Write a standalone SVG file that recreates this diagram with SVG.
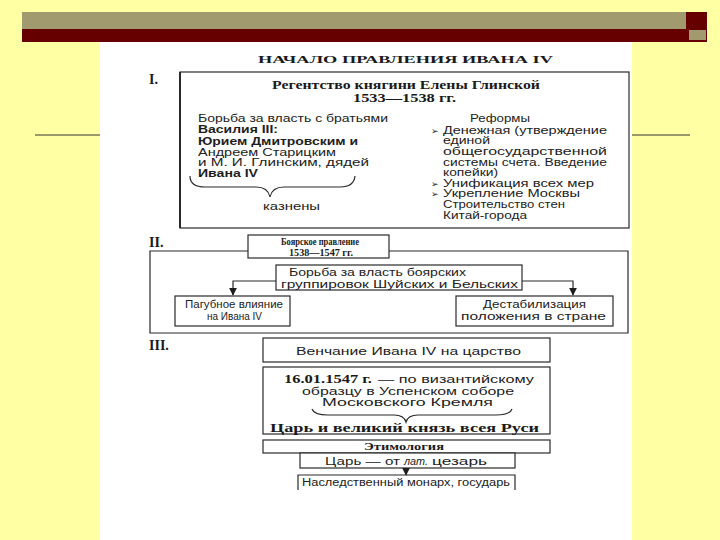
<svg xmlns="http://www.w3.org/2000/svg" width="720" height="540" viewBox="0 0 720 540">
<defs>
<style>
.bx{fill:#fff;stroke:#2a2a2a;stroke-width:1.2}
.ln{fill:none;stroke:#2a2a2a;stroke-width:1.2}
.t{font-family:"Liberation Sans",Arial,sans-serif;font-size:10px;fill:#222}
.tb{font-family:"Liberation Sans",Arial,sans-serif;font-size:10px;font-weight:bold;fill:#1e1e1e}
.s{font-family:"Liberation Serif","Times New Roman",serif;font-weight:bold;fill:#1a1a1a}
.bul{font-family:"DejaVu Sans",sans-serif;font-size:9px;fill:#1e1e1e}
</style>
<marker id="ar" viewBox="0 0 10 10" refX="9" refY="5" markerWidth="8" markerHeight="8" orient="auto" markerUnits="userSpaceOnUse">
<path d="M0,0 L10,5 L0,10 z" fill="#1e1e1e"/>
</marker>
</defs>

<rect x="0" y="0" width="720" height="540" fill="#FFFFA3"/>
<g id="topbar">
<rect x="22" y="12" width="664" height="17" fill="#A09A6E"/>
<rect x="22" y="29" width="666" height="13" fill="#660000"/>
<rect x="686" y="12" width="21" height="30" fill="#660000"/>
<rect x="689" y="30" width="17" height="10" fill="#A09A6E"/>
</g>
<rect x="100" y="42" width="532" height="498" fill="#ffffff"/>
<g id="rules" stroke="#333" stroke-width="1">
<line x1="35" y1="135" x2="100" y2="135"/>
<line x1="632" y1="135" x2="690" y2="135"/>
</g>

<text class="s" x="258" y="63" font-size="11" textLength="295" lengthAdjust="spacingAndGlyphs">НАЧАЛО ПРАВЛЕНИЯ ИВАНА IV</text>

<g id="sec1">
<text class="s" x="149" y="84" font-size="14">I.</text>
<rect class="bx" x="180" y="72" width="449" height="156"/>
<line x1="180" y1="72" x2="180" y2="228" stroke="#2a2a2a" stroke-width="2"/>
<text class="s" x="272" y="89" font-size="11.5" textLength="268" lengthAdjust="spacingAndGlyphs">Регентство княгини Елены Глинской</text>
<text class="s" x="353" y="102" font-size="11.5" textLength="103" lengthAdjust="spacingAndGlyphs">1533—1538 гг.</text>
</g>

<g id="struggle">
<text class="t" x="198" y="122" textLength="190" lengthAdjust="spacingAndGlyphs">Борьба за власть с братьями</text>
<text class="tb" x="198" y="133" textLength="80" lengthAdjust="spacingAndGlyphs">Василия III:</text>
<text class="tb" x="198" y="145" textLength="160" lengthAdjust="spacingAndGlyphs">Юрием Дмитровским и</text>
<text class="t" x="198" y="156" textLength="138" lengthAdjust="spacingAndGlyphs">Андреем Старицким</text>
<text class="t" x="198" y="166" textLength="171" lengthAdjust="spacingAndGlyphs">и М. И. Глинским, дядей</text>
<text class="tb" x="198" y="177" textLength="60" lengthAdjust="spacingAndGlyphs">Ивана IV</text>
<text class="t" x="263" y="210" textLength="57" lengthAdjust="spacingAndGlyphs">казнены</text>
</g>

<g id="reforms">
<text class="t" x="470" y="122" textLength="60" lengthAdjust="spacingAndGlyphs">Реформы</text>
<text class="bul" x="431" y="134">➢</text>
<text class="t" x="443" y="134" textLength="164" lengthAdjust="spacingAndGlyphs">Денежная (утверждение</text>
<text class="t" x="443" y="144" textLength="47" lengthAdjust="spacingAndGlyphs">единой</text>
<text class="t" x="443" y="155" textLength="164" lengthAdjust="spacingAndGlyphs">общегосударственной</text>
<text class="t" x="443" y="166" textLength="164" lengthAdjust="spacingAndGlyphs">системы счета. Введение</text>
<text class="t" x="443" y="176" textLength="55" lengthAdjust="spacingAndGlyphs">копейки)</text>
<text class="bul" x="431" y="187">➢</text>
<text class="t" x="443" y="187" textLength="151" lengthAdjust="spacingAndGlyphs">Унификация всех мер</text>
<text class="bul" x="431" y="197">➢</text>
<text class="t" x="443" y="197" textLength="137" lengthAdjust="spacingAndGlyphs">Укрепление Москвы</text>
<text class="t" x="443" y="208" textLength="122" lengthAdjust="spacingAndGlyphs">Строительство стен</text>
<text class="t" x="443" y="219" textLength="84" lengthAdjust="spacingAndGlyphs">Китай-города</text>
</g>

<g id="sec2title">
<text class="s" x="149" y="247" font-size="14">II.</text>
<rect class="bx" x="248" y="235" width="141" height="23"/>
<text class="s" x="281" y="245" font-size="10.5" textLength="78" lengthAdjust="spacingAndGlyphs">Боярское правление</text>
<text class="s" x="289" y="256" font-size="10.5" textLength="64" lengthAdjust="spacingAndGlyphs">1538—1547 гг.</text>
</g>

<g id="boyars">
<rect class="bx" x="276" y="265" width="246" height="25"/>
<text class="t" x="289" y="276" textLength="177" lengthAdjust="spacingAndGlyphs">Борьба за власть боярских</text>
<text class="t" x="281" y="288" textLength="237" lengthAdjust="spacingAndGlyphs">группировок Шуйских и Бельских</text>
</g>

<g id="influence">
<rect class="bx" x="175" y="296" width="115" height="30"/>
<text class="t" x="185" y="308" textLength="98" lengthAdjust="spacingAndGlyphs">Пагубное влияние</text>
<text class="t" x="207" y="320" textLength="55" lengthAdjust="spacingAndGlyphs">на Ивана IV</text>
</g>

<g id="destab">
<rect class="bx" x="456" y="296" width="157" height="30"/>
<text class="t" x="483" y="308" textLength="103" lengthAdjust="spacingAndGlyphs">Дестабилизация</text>
<text class="t" x="461" y="320" textLength="145" lengthAdjust="spacingAndGlyphs">положения в стране</text>
</g>

<g id="coronation">
<text class="s" x="149" y="350" font-size="14">III.</text>
<rect class="bx" x="263" y="338" width="287" height="24"/>
<text class="t" x="296" y="355" font-size="11" textLength="225" lengthAdjust="spacingAndGlyphs">Венчание Ивана IV на царство</text>
</g>

<g id="date">
<rect class="bx" x="263" y="367" width="287" height="67"/>
<text class="s" x="284" y="383" font-size="12" textLength="88" lengthAdjust="spacingAndGlyphs">16.01.1547 г.</text>
<text class="t" x="378" y="383" font-size="11" textLength="156" lengthAdjust="spacingAndGlyphs">— по византийскому</text>
<text class="t" x="302" y="395" font-size="11" textLength="212" lengthAdjust="spacingAndGlyphs">образцу в Успенском соборе</text>
<text class="t" x="322" y="406" font-size="11" textLength="171" lengthAdjust="spacingAndGlyphs">Московского Кремля</text>
<text class="s" x="270" y="432" font-size="12" textLength="269" lengthAdjust="spacingAndGlyphs">Царь и великий князь всея Руси</text>
</g>

<g id="etym">
<rect class="bx" x="263" y="440" width="287" height="13"/>
<text class="s" x="364" y="450" font-size="10" textLength="80" lengthAdjust="spacingAndGlyphs">Этимология</text>
</g>

<g id="tsar">
<rect class="bx" x="300" y="453" width="215" height="15"/>
<text class="t" x="325" y="465" font-size="11" textLength="75" lengthAdjust="spacingAndGlyphs">Царь — от</text>
<text class="t" x="404" y="465" font-size="11" font-style="italic" textLength="24" lengthAdjust="spacingAndGlyphs">лат.</text>
<text class="t" x="432" y="465" font-size="11" textLength="55" lengthAdjust="spacingAndGlyphs">цезарь</text>
</g>

<g id="monarch">
<path class="ln" d="M298,490 V475 H515 V490"/>
<text class="t" x="302" y="486" textLength="208" lengthAdjust="spacingAndGlyphs">Наследственный монарх, государь</text>
</g>

<g id="connectors">
<path class="ln" d="M248,251 H150 V333 H628 V251 H389"/>
<path class="ln" d="M276,281 H233 V295" marker-end="url(#ar)"/>
<path class="ln" d="M522,281 H573 V295" marker-end="url(#ar)"/>
<path class="ln" d="M406,468 V475" marker-end="url(#ar)"/>
<path class="ln" d="M190,176 Q190,187 205,187 L256,187 Q268,187 270,197 Q272,187 284,187 L340,187 Q354,187 355,176"/>
<path class="ln" d="M312,409 Q314,415 328,415 L394,415 Q404,415 406,422 Q408,415 418,415 L496,415 Q510,415 512,409"/>
</g>
</svg>
